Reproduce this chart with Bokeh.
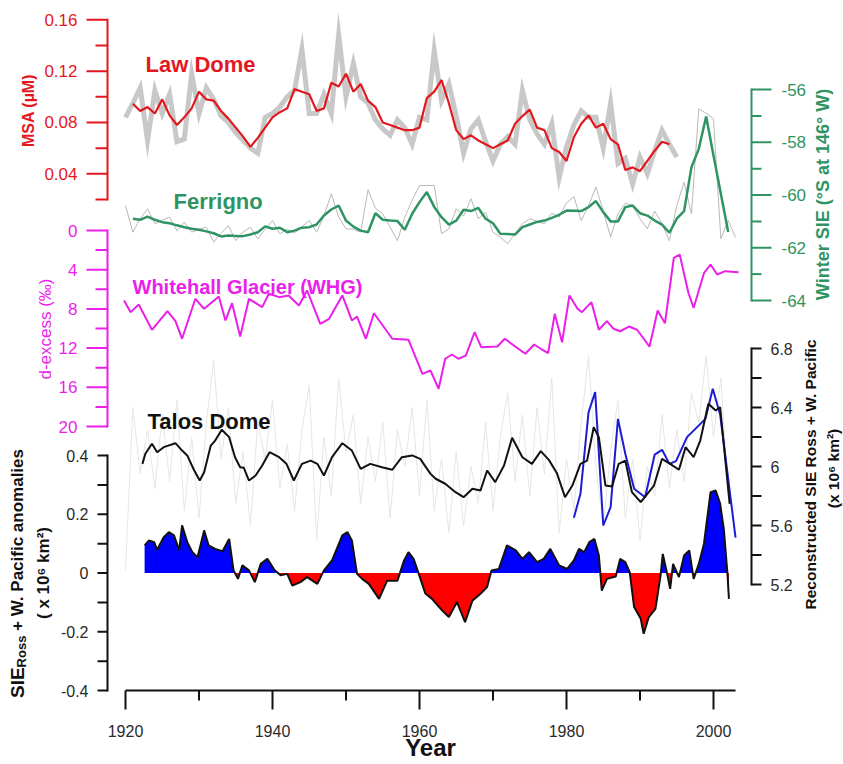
import math
from bokeh.plotting import figure
from bokeh.models import Range1d, Label
from bokeh.embed import file_html
from bokeh.resources import INLINE

# ------------------------------------------------------------------ data
LAW_YEAR = list(range(1920, 1996))
LAW_RAW = [0.084, 0.095, 0.107, 0.066, 0.105, 0.087, 0.102, 0.065, 0.067, 0.118,
           0.087, 0.107, 0.098, 0.085, 0.080, 0.072, 0.066, 0.060, 0.056, 0.084,
           0.087, 0.092, 0.100, 0.105, 0.137, 0.087, 0.087, 0.102, 0.087, 0.148,
           0.100, 0.126, 0.100, 0.095, 0.082, 0.075, 0.070, 0.082, 0.076, 0.063,
           0.084, 0.082, 0.136, 0.097, 0.110, 0.085, 0.056, 0.075, 0.082, 0.065,
           0.050, 0.063, 0.069, 0.063, 0.105, 0.082, 0.071, 0.063, 0.079, 0.037,
           0.061, 0.078, 0.089, 0.084, 0.084, 0.060, 0.095, 0.048, 0.052, 0.032,
           0.053, 0.040, 0.058, 0.074, 0.063, 0.053]
LAW_SM_YEAR = list(range(1921, 1995))
LAW_SM = [0.0946, 0.089, 0.092, 0.087, 0.098, 0.0855, 0.078, 0.084, 0.091,
          0.104, 0.098, 0.097, 0.089, 0.083, 0.076, 0.069, 0.061, 0.068, 0.076,
          0.084, 0.088, 0.091, 0.106, 0.104, 0.102, 0.089, 0.091, 0.111, 0.108,
          0.118, 0.104, 0.110, 0.097, 0.092, 0.080, 0.078, 0.076, 0.074, 0.074,
          0.076, 0.099, 0.104, 0.113, 0.095, 0.074, 0.067, 0.070, 0.066, 0.063,
          0.060, 0.063, 0.066, 0.079, 0.085, 0.090, 0.076, 0.074, 0.060, 0.057,
          0.050, 0.0685, 0.079, 0.0855, 0.076, 0.079, 0.067, 0.063, 0.043, 0.045,
          0.042, 0.050, 0.058, 0.065, 0.063]

FER_YEAR = list(range(1920, 2004))
FER_RAW = [-60.40, -61.41, -60.90, -60.52, -61.09, -60.95, -60.84, -61.35, -61.03, -61.41,
           -61.30, -61.22, -61.79, -61.45, -61.16, -61.73, -61.40, -61.22, -61.66, -61.30,
           -60.97, -61.47, -61.30, -61.45, -61.20, -60.97, -61.41, -60.80, -59.95, -60.84,
           -61.28, -61.30, -61.41, -59.80, -60.50, -60.71, -61.22, -61.73, -60.84, -60.20,
           -59.64, -59.64, -59.64, -61.47, -61.28, -60.52, -60.80, -60.14, -60.90, -60.65,
           -61.41, -61.60, -61.85, -61.45, -61.09, -60.90, -61.00, -61.09, -60.69, -60.84,
           -60.30, -60.06, -60.97, -60.40, -59.70, -60.60, -61.60, -60.71, -60.31, -60.40,
           -60.90, -61.28, -60.61, -61.10, -61.73, -60.40, -59.52, -60.71, -56.73, -56.90,
           -57.11, -61.66, -60.97, -61.60]
FER_SM_YEAR = list(range(1921, 2003))
FER_SM = [-60.90, -60.94, -60.82, -60.94, -61.03, -61.07, -61.15, -61.22, -61.28,
          -61.32, -61.38, -61.45, -61.57, -61.54, -61.55, -61.56, -61.50, -61.41, -61.19,
          -61.28, -61.24, -61.41, -61.35, -61.24, -61.22, -61.12, -60.78, -60.55, -60.40,
          -60.97, -61.20, -61.35, -61.41, -60.69, -60.94, -60.97, -60.99, -61.32, -60.71,
          -60.27, -59.89, -60.45, -60.84, -61.12, -60.97, -60.56, -60.61, -60.49, -60.90,
          -61.07, -61.47, -61.48, -61.50, -61.22, -61.12, -61.02, -60.97, -60.87, -60.75,
          -60.59, -60.60, -60.61, -60.46, -60.23, -60.65, -61.00, -61.00, -60.46, -60.40,
          -60.69, -60.78, -60.97, -61.12, -61.43, -60.90, -60.61, -58.95, -58.25, -57.02,
          -58.50, -59.95, -61.40]

WHG_YEAR = [1919.8, 1920.7, 1921.8, 1923.6, 1925.7, 1926.8, 1927.7, 1929.5, 1930.7, 1932.7,
            1933.6, 1934.5, 1935.6, 1936.8, 1938.6, 1939.5, 1940.9, 1942.2, 1943.6, 1944.7,
            1946.5, 1947.7, 1949.5, 1950.8, 1951.5, 1952.7, 1953.8, 1956.3, 1958.5, 1960.4,
            1961.5, 1962.6, 1963.5, 1964.4, 1965.3, 1966.3, 1967.5, 1968.4, 1970.6, 1971.6,
            1974.4, 1975.6, 1976.5, 1977.5, 1978.4, 1979.4, 1980.4, 1981.5, 1982.1, 1983.4,
            1984.4, 1985.5, 1986.4, 1987.3, 1988.5, 1989.6, 1991.3, 1992.4, 1993.4, 1994.6,
            1995.4, 1996.6, 1997.3, 1998.7, 1999.6, 2000.5, 2001.6, 2003.4]
WHG_DEX = [7.14, 8.33, 7.55, 10.13, 8.23, 9.25, 11.05, 6.97, 7.99, 6.73,
           9.18, 7.42, 10.82, 6.97, 7.82, 6.46, 6.80, 6.63, 7.65, 6.12,
           9.52, 9.01, 6.63, 9.18, 8.78, 11.05, 8.44, 11.05, 11.15, 14.63,
           14.29, 16.15, 13.09, 12.65, 13.09, 12.76, 10.37, 11.91, 11.84, 11.05,
           12.58, 11.63, 12.07, 12.52, 8.50, 11.40, 6.63, 7.99, 8.33, 7.31,
           10.13, 9.25, 10.03, 10.28, 9.80, 10.13, 11.84, 8.16, 9.46, 2.79,
           2.45, 6.40, 7.89, 4.36, 3.47, 4.49, 4.15, 4.25]

TD_RAW_YEAR = list(range(1920, 2004))
TD_RAW = [5.30, 6.40, 5.95, 6.25, 5.85, 6.35, 5.90, 6.45, 5.70, 6.20,
          5.65, 6.30, 6.72, 6.05, 6.40, 5.75, 6.10, 5.60, 6.30, 6.05,
          6.45, 5.85, 6.15, 5.70, 6.25, 6.55, 5.50, 6.20, 5.80, 6.60,
          6.10, 6.35, 5.75, 6.20, 5.90, 6.30, 5.65, 6.25, 6.00, 6.40,
          5.80, 6.45, 5.70, 6.05, 5.55, 6.10, 5.60, 6.00, 5.75, 6.30,
          5.70, 6.20, 6.50, 5.90, 6.35, 5.80, 6.40, 5.95, 6.60, 5.55,
          6.05, 5.70, 6.30, 6.75, 6.00, 5.60, 6.10, 6.45, 5.65, 6.05,
          5.50, 6.00, 5.80, 6.35, 5.85, 6.25, 5.90, 6.50, 6.30, 6.75,
          6.20, 6.60, 5.80, 5.70]
TD_SM_YEAR = [1922.3, 1922.7, 1923.6, 1924.3, 1925.2, 1926.8, 1927.7, 1928.4, 1929.3, 1930.1,
              1930.7, 1931.6, 1932.2, 1933.1, 1934.1, 1934.9, 1935.6, 1936.1, 1936.8, 1937.7,
              1938.6, 1939.6, 1940.9, 1941.9, 1942.9, 1944.0, 1945.2, 1946.1, 1947.0, 1948.1,
              1949.5, 1950.8, 1952.0, 1953.3, 1954.9, 1956.3, 1957.6, 1959.0, 1960.1, 1961.5,
              1962.2, 1963.5, 1964.9, 1966.0, 1967.2, 1968.3, 1969.2, 1970.3, 1971.5, 1972.6,
              1974.0, 1975.3, 1976.5, 1977.6, 1978.7, 1979.8, 1980.8, 1981.9, 1982.8, 1983.7,
              1984.4, 1985.3, 1986.2, 1987.1, 1988.0, 1988.9, 1990.1, 1991.0, 1991.9, 1993.0,
              1994.1, 1995.3, 1996.2, 1997.3, 1998.2, 1999.3, 2000.3, 2000.9, 2002.2]
TD_SM = [6.018, 6.086, 6.154, 6.097, 6.131, 6.158, 6.108, 6.075, 5.978, 5.905,
         5.961, 6.142, 6.176, 6.249, 6.199, 6.063, 5.995, 5.991, 5.905, 5.939,
         6.007, 6.097, 6.063, 6.018, 5.905, 6.018, 6.040, 6.018, 5.939, 6.063,
         6.158, 6.108, 5.984, 6.018, 5.995, 5.978, 6.063, 6.075, 6.052, 5.950,
         5.917, 5.883, 5.826, 5.792, 5.849, 5.837, 5.973, 5.894, 6.007, 6.195,
         6.063, 6.018, 6.104, 6.045, 5.954, 5.792, 5.871, 6.018, 6.040, 6.266,
         6.199, 5.871, 5.864, 6.018, 6.040, 5.826, 5.758, 5.815, 5.871, 6.052,
         6.018, 5.978, 6.131, 6.063, 6.176, 6.425, 6.380, 6.402, 5.747]

OBS_YEAR = [1981.0, 1981.9, 1983.0, 1983.9, 1985.0, 1986.0, 1987.0, 1988.0, 1989.2, 1990.7,
            1992.0, 1993.0, 1994.0, 1994.9, 1996.4, 1998.9, 1999.9, 2000.9, 2003.0]
OBS_SIE = [5.652, 5.815, 6.368, 6.504, 5.600, 5.724, 6.323, 6.086, 5.849, 5.792,
           6.081, 6.113, 6.018, 6.036, 6.199, 6.323, 6.527, 6.353, 5.517]

ANOM_YEAR = [1922.6, 1923.2, 1923.9, 1924.3, 1925.2, 1925.9, 1926.6, 1927.3, 1927.7, 1928.4,
             1929.1, 1929.8, 1930.7, 1931.3, 1932.2, 1933.2, 1934.1, 1934.7, 1935.3, 1935.9,
             1936.8, 1937.6, 1938.4, 1939.3, 1940.3, 1941.1, 1942.0, 1942.7, 1943.8, 1944.7,
             1946.1, 1947.0, 1948.1, 1949.5, 1950.2, 1950.8, 1951.5, 1952.2, 1953.1, 1954.5,
             1955.6, 1957.0, 1957.9, 1958.5, 1959.2, 1959.9, 1960.8, 1961.7, 1963.1, 1964.0,
             1965.1, 1966.2, 1967.2, 1968.3, 1969.2, 1969.8, 1970.8, 1971.9, 1973.1, 1974.0,
             1974.9, 1976.0, 1976.9, 1977.8, 1979.0, 1980.1, 1981.0, 1981.7, 1982.4, 1983.1,
             1983.8, 1984.4, 1984.8, 1985.5, 1986.7, 1987.3, 1988.0, 1988.6, 1989.2, 1990.1,
             1990.5, 1991.2, 1992.1, 1992.8, 1993.1, 1993.7, 1994.1, 1994.5, 1995.3, 1996.0,
             1996.7, 1997.3, 1998.0, 1998.7, 1999.6, 2000.3, 2000.9, 2001.4, 2001.9, 2002.1]
ANOM = [0.094, 0.111, 0.105, 0.079, 0.122, 0.139, 0.128, 0.077, 0.162, 0.105,
        0.071, 0.054, 0.145, 0.094, 0.082, 0.074, 0.116, 0.009, -0.020, 0.026,
        0.009, -0.031, 0.031, 0.048, 0.009, -0.008, -0.003, -0.043, -0.031, -0.014,
        -0.037, 0.009, 0.043, 0.128, 0.139, 0.111, -0.003, -0.020, -0.037, -0.088,
        -0.026, -0.026, 0.043, 0.071, 0.048, -0.003, -0.070, -0.088, -0.128, -0.150,
        -0.099, -0.167, -0.094, -0.071, -0.048, 0.009, 0.014, 0.094, 0.077, 0.048,
        0.071, 0.037, 0.048, 0.082, 0.026, 0.014, 0.043, 0.082, 0.071, 0.105,
        0.116, 0.060, -0.060, -0.020, -0.012, 0.048, 0.037, 0.003, -0.116, -0.156,
        -0.207, -0.150, -0.122, -0.008, 0.065, -0.003, -0.054, 0.031, -0.014, 0.060,
        0.077, -0.020, 0.031, 0.099, 0.275, 0.281, 0.236, 0.150, -0.003, -0.088]

# tick values / labels
X_TICKS = [1920, 1940, 1960, 1980, 2000]
X_MINOR = [1930, 1950, 1970, 1990]
X_LABELS = ["1920", "1940", "1960", "1980", "2000"]
X_BOUNDS = (1920, 2003)
MSA_TICKS = [0.04, 0.08, 0.12, 0.16]
MSA_MINOR = [0.02, 0.06, 0.10, 0.14]
MSA_LABELS = ["0.04", "0.08", "0.12", "0.16"]
DEX_TICKS = [0, 4, 8, 12, 16, 20]
DEX_MINOR = [2, 6, 10, 14, 18]
DEX_LABELS = ["0", "4", "8", "12", "16", "20"]
ANOM_TICKS = [-0.4, -0.2, 0.0, 0.2, 0.4]
ANOM_MINOR = [-0.3, -0.1, 0.1, 0.3]
ANOM_LABELS = ["-0.4", "-0.2", "0", "0.2", "0.4"]
FER_TICKS = [-64, -62, -60, -58, -56]
FER_MINOR = [-63, -61, -59, -57]
FER_LABELS = ["-64", "-62", "-60", "-58", "-56"]
SIE_TICKS = [5.2, 5.6, 6.0, 6.4, 6.8]
SIE_MINOR = [5.4, 5.8, 6.2, 6.6]
SIE_LABELS = ["5.2", "5.6", "6", "6.4", "6.8"]

# ------------------------------------------------------------------ style / layout
FONT = "Liberation Sans"
RED = "#e3181f"
GREEN = "#2f9463"
MAGENTA = "#ea1fea"
DARK = "#111111"
TXT = "#2a2a2a"

FW, FH = 843, 764          # frame = whole page, px
PX_1920, PX_PER_YR = 125.0, 7.35
XAXIS_PX = 690             # pixel row of the year axis


def lin_range(v_a, p_a, v_b, p_b):
    k = (v_b - v_a) / (p_b - p_a)
    return Range1d(start=v_a + (FH - p_a) * k, end=v_a + (0 - p_a) * k)


p = figure(frame_width=FW, frame_height=FH,
           x_range=Range1d(1920 - PX_1920 / PX_PER_YR, 1920 + (FW - PX_1920) / PX_PER_YR),
           y_range=Range1d(FH, 0),
           output_backend="svg", toolbar_location=None,
           x_axis_location=None, y_axis_location=None, min_border=0)
p.extra_x_ranges = {"px": Range1d(0, FW)}
p.extra_y_ranges = {
    "msa": lin_range(0.16, 19.3, 0.04, 173.3),
    "dex": lin_range(0, 230, 20, 426),
    "anom": lin_range(0.4, 455, -0.4, 690),
    "fer": lin_range(-56, 89, -64, 300),
    "sie": lin_range(6.8, 348, 5.2, 584),
}
p.grid.visible = False
p.outline_line_color = None
p.background_fill_color = "white"
p.border_fill_color = "white"


def add_label(x, y, s, size, color, rname="default", xname="px", bold=False,
              angle=0.0, align="left", baseline="middle"):
    p.add_layout(Label(x=x, y=y, text=s, x_range_name=xname, y_range_name=rname,
                       angle=angle, text_align=align, text_baseline=baseline,
                       text_font=FONT, text_font_size=size,
                       text_font_style="bold" if bold else "normal",
                       text_color=color))


def vaxis(rname, lo, hi, majors, minors, labels, ax_px, side, color,
          maj_len, min_len, lab_px, lab_color, lab_size):
    s = -1 if side == "left" else 1
    kw = dict(x_range_name="px", y_range_name=rname)
    p.segment(x0=[ax_px], y0=[lo], x1=[ax_px], y1=[hi], line_color=color,
              line_width=2, line_cap="square", **kw)
    p.segment(x0=[ax_px] * len(majors), y0=majors,
              x1=[ax_px + s * maj_len] * len(majors), y1=majors,
              line_color=color, line_width=2, **kw)
    p.segment(x0=[ax_px] * len(minors), y0=minors,
              x1=[ax_px + s * min_len] * len(minors), y1=minors,
              line_color=color, line_width=2, **kw)
    for v, t in zip(majors, labels):
        add_label(lab_px, v, t, lab_size, lab_color, rname=rname,
                  align="right" if s < 0 else "left")


# ------------------------------------------------------------------ series
p.line(TD_RAW_YEAR, TD_RAW, y_range_name="sie", line_color="#e6e6e6", line_width=1)

p.line(LAW_YEAR, LAW_RAW, y_range_name="msa", line_color="#c8c8c8", line_width=5,
       line_join="miter")
p.line(LAW_SM_YEAR, LAW_SM, y_range_name="msa", line_color=RED, line_width=2.2)

p.line(FER_YEAR, FER_RAW, y_range_name="fer", line_color="#b8b8b8", line_width=1)
p.line(FER_SM_YEAR, FER_SM, y_range_name="fer", line_color=GREEN, line_width=2.5)

p.line(WHG_YEAR, WHG_DEX, y_range_name="dex", line_color=MAGENTA, line_width=2)

fx, fpos, fneg = [], [], []
for i, (yr, a) in enumerate(zip(ANOM_YEAR, ANOM)):
    if i > 0:
        y0, a0 = ANOM_YEAR[i - 1], ANOM[i - 1]
        if a0 * a < 0:
            xc = y0 + a0 / (a0 - a) * (yr - y0)
            fx.append(xc); fpos.append(0.0); fneg.append(0.0)
    fx.append(yr); fpos.append(max(a, 0.0)); fneg.append(min(a, 0.0))
p.varea(x=fx, y1=0.0, y2=fpos, y_range_name="anom", fill_color="#0000ff")
p.varea(x=fx, y1=0.0, y2=fneg, y_range_name="anom", fill_color="#ff0000")
p.line(ANOM_YEAR, ANOM, y_range_name="anom", line_color=DARK, line_width=2)

p.line(OBS_YEAR, OBS_SIE, y_range_name="sie", line_color="#1c1cd4", line_width=2)
p.line(TD_SM_YEAR, TD_SM, y_range_name="sie", line_color=DARK, line_width=2)

# ------------------------------------------------------------------ year axis
p.segment(x0=[X_BOUNDS[0]], y0=[XAXIS_PX], x1=[X_BOUNDS[1]], y1=[XAXIS_PX],
          line_color=DARK, line_width=2)
p.segment(x0=X_TICKS, y0=[XAXIS_PX] * len(X_TICKS), x1=X_TICKS,
          y1=[XAXIS_PX + 19] * len(X_TICKS), line_color=DARK, line_width=2)
p.segment(x0=X_MINOR, y0=[XAXIS_PX] * len(X_MINOR), x1=X_MINOR,
          y1=[XAXIS_PX + 10] * len(X_MINOR), line_color=DARK, line_width=2)
for v, t in zip(X_TICKS, X_LABELS):
    add_label(v, XAXIS_PX + 40, t, "16px", TXT, xname="default", align="center")
add_label((X_BOUNDS[0] + X_BOUNDS[1]) / 2, XAXIS_PX + 57, "Year", "24px", DARK,
          xname="default", bold=True, align="center")

# ------------------------------------------------------------------ value axes
vaxis("msa", 0.02, 0.16, MSA_TICKS, MSA_MINOR, MSA_LABELS, 107, "left", RED,
      21, 12, 77, RED, "17px")
vaxis("dex", 0, 20, DEX_TICKS, DEX_MINOR, DEX_LABELS, 107, "left", MAGENTA,
      21, 12, 77, MAGENTA, "17px")
vaxis("anom", -0.4, 0.4, ANOM_TICKS, ANOM_MINOR, ANOM_LABELS, 107, "left", DARK,
      10, 10, 88, TXT, "16px")
vaxis("fer", -64, -56, FER_TICKS, FER_MINOR, FER_LABELS, 751, "right", GREEN,
      20, 10, 781, GREEN, "17px")
vaxis("sie", 5.2, 6.8, SIE_TICKS, SIE_MINOR, SIE_LABELS, 751, "right", DARK,
      10, 10, 770, TXT, "16px")

# ------------------------------------------------------------------ texts
UP = math.pi / 2
add_label(145, 64, "Law Dome", "22px", RED, bold=True, baseline="alphabetic")
add_label(173, 201, "Ferrigno", "22px", GREEN, bold=True, baseline="alphabetic")
add_label(132, 286, "Whitehall Glacier (WHG)", "20px", MAGENTA, bold=True,
          baseline="alphabetic")
add_label(147, 421, "Talos Dome", "22px", DARK, bold=True, baseline="alphabetic")

add_label(28, 110, "MSA (µM)", "16px", RED, bold=True, angle=UP, align="center")
add_label(45, 328.5, "d-excess (‰)", "17px", MAGENTA, angle=UP, align="center")
add_label(16.5, 697.5, "SIE", "19px", DARK, bold=True, angle=UP)
add_label(21, 666.9, "Ross", "13px", DARK, bold=True, angle=UP)
add_label(16.5, 630.4, "+ W. Pacific anomalies", "17px", DARK, bold=True, angle=UP)
add_label(43, 572.5, "( x 10⁶ km²)", "17px", DARK, bold=True, angle=UP, align="center")

add_label(822, 194, "Winter SIE (°S at 146° W)", "18px", GREEN, bold=True, angle=UP,
          align="center")
add_label(810, 474, "Reconstructed SIE Ross + W. Pacific", "15.5px", DARK, bold=True,
          angle=UP, align="center")
add_label(833, 468, "(x 10⁶ km²)", "15.5px", DARK, bold=True, angle=UP, align="center")

open("out.html", "w").write(file_html(p, INLINE))
